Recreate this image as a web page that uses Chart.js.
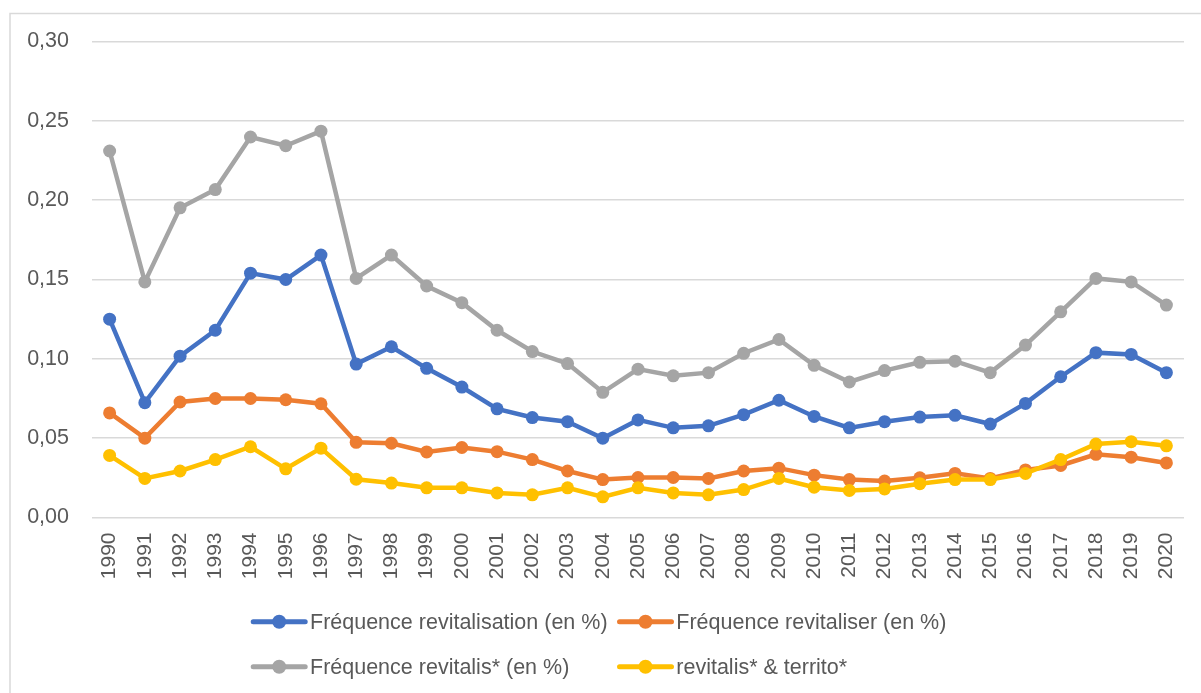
<!DOCTYPE html>
<html lang="fr">
<head>
  <meta charset="UTF-8" />
  <title>Fréquence revitalisation</title>
  <script src="https://cdn.jsdelivr.net/npm/chart.js"></script>
  <style>
    html, body { margin: 0; padding: 0; background: #fff; }
    .cadre { position: relative; width: 1201px; height: 693px; }
  </style>
</head>
<body>
  <div class="cadre">
    <canvas id="graphique"></canvas>
  </div>

  <script>
    var annees = ["1990", "1991", "1992", "1993", "1994", "1995", "1996", "1997", "1998", "1999",
      "2000", "2001", "2002", "2003", "2004", "2005", "2006", "2007", "2008", "2009",
      "2010", "2011", "2012", "2013", "2014", "2015", "2016", "2017", "2018", "2019", "2020"];

    var revitalisation = [0.125, 0.0724, 0.1017, 0.118, 0.154, 0.150, 0.1654, 0.0967, 0.1076, 0.094,
      0.0822, 0.0685, 0.063, 0.0604, 0.050, 0.0615, 0.0565, 0.0578, 0.0648, 0.0739,
      0.0637, 0.0565, 0.0604, 0.0633, 0.0644, 0.0589, 0.0719, 0.0887, 0.1039, 0.1028, 0.0913];

    var revitaliser = [0.0659, 0.050, 0.0728, 0.075, 0.075, 0.0742, 0.0717, 0.0474, 0.0468, 0.0413,
      0.0441, 0.0415, 0.0365, 0.0293, 0.0239, 0.0252, 0.0252, 0.0246, 0.0293, 0.0311,
      0.0267, 0.0239, 0.023, 0.025, 0.0278, 0.0246, 0.030, 0.0328, 0.0398, 0.038, 0.0344];

    var revitalisEtoile = [0.231, 0.1485, 0.1952, 0.2067, 0.2398, 0.2343, 0.2435, 0.1507, 0.1654, 0.1459,
      0.1354, 0.118, 0.1046, 0.097, 0.0789, 0.0935, 0.0893, 0.0913, 0.1035, 0.1122,
      0.0959, 0.0854, 0.0926, 0.0978, 0.0985, 0.0913, 0.1087, 0.1296, 0.1507, 0.1485, 0.1339];

    var revitalisTerrito = [0.0391, 0.0246, 0.0293, 0.0365, 0.0446, 0.0307, 0.0437, 0.0241, 0.0217, 0.0187,
      0.0187, 0.0155, 0.0143, 0.0187, 0.013, 0.0187, 0.0155, 0.0143, 0.0176, 0.0246,
      0.0191, 0.017, 0.018, 0.0213, 0.0239, 0.0239, 0.0278, 0.0365, 0.0463, 0.0478, 0.0452];

    var etiquettesY = ["0,00", "0,05", "0,10", "0,15", "0,20", "0,25", "0,30"];

    var nomsSeries = ["Fréquence revitalisation (en %)", "Fréquence revitaliser (en %)",
      "Fréquence revitalis* (en %)", "revitalis* & territo*"];
    var couleurs = ["#4472C4", "#ED7D31", "#A5A5A5", "#FFC000"];

    var police = "'Liberation Sans', Arial, sans-serif";
    var gris = "#595959";

    function serie(i, valeurs) {
      return {
        label: nomsSeries[i],
        data: valeurs,
        borderColor: couleurs[i],
        backgroundColor: couleurs[i],
        pointBackgroundColor: couleurs[i],
        pointBorderWidth: 0,
        pointRadius: 6.5,
        pointHoverRadius: 6.5,
        borderWidth: 4.5,
        tension: 0,
        order: 3 - i
      };
    }

    // cadre gris autour du graphique
    var cadre = {
      id: "cadre",
      beforeDraw: function (chart) {
        var ctx = chart.ctx;
        ctx.save();
        ctx.strokeStyle = "#d9d9d9";
        ctx.lineWidth = 1.5;
        ctx.strokeRect(10, 13.5, 1300, 800);
        ctx.restore();
      }
    };

    // légende façon Excel : trait + point, sur deux colonnes
    var legende = {
      id: "legende",
      afterDraw: function (chart) {
        var ctx = chart.ctx;
        var colX = [250.7, 617];
        var rangY = [621.7, 666.7];
        ctx.save();
        ctx.font = "21.5px " + police;
        ctx.textBaseline = "middle";
        ctx.textAlign = "left";
        for (var i = 0; i < chart.data.datasets.length; i++) {
          var ds = chart.data.datasets[i];
          var x = colX[i % 2];
          var y = rangY[Math.floor(i / 2)];
          ctx.strokeStyle = ds.borderColor;
          ctx.lineWidth = 5;
          ctx.lineCap = "round";
          ctx.beginPath();
          ctx.moveTo(x + 2.5, y);
          ctx.lineTo(x + 54.5, y);
          ctx.stroke();
          ctx.fillStyle = ds.borderColor;
          ctx.beginPath();
          ctx.arc(x + 28.5, y, 7, 0, Math.PI * 2);
          ctx.fill();
          ctx.fillStyle = gris;
          ctx.fillText(ds.label, x + 59.3, y + 1);
        }
        ctx.restore();
      }
    };

    new Chart(graphique, {
      type: "line",
      data: {
        labels: annees,
        datasets: [
          serie(0, revitalisation),
          serie(1, revitaliser),
          serie(2, revitalisEtoile),
          serie(3, revitalisTerrito)
        ]
      },
      plugins: [cadre, legende],
      options: {
        responsive: true,
        maintainAspectRatio: false,
        animation: false,
        layout: { padding: { top: 41.5, right: 17, bottom: 0, left: 0 } },
        plugins: {
          legend: { display: false },
          tooltip: { enabled: false }
        },
        scales: {
          x: {
            offset: true,
            grid: { display: false, drawTicks: false },
            border: { display: false },
            afterFit: function (scale) {
              scale.height = 175.5;
              scale.paddingLeft = 0;
              scale.paddingRight = 0;
            },
            ticks: {
              autoSkip: false,
              minRotation: 90,
              maxRotation: 90,
              padding: 15,
              color: gris,
              font: { family: police, size: 21 }
            }
          },
          y: {
            min: 0,
            max: 0.3,
            grid: { color: "#d9d9d9", lineWidth: 1.5, drawTicks: false },
            border: { display: false },
            afterFit: function (scale) {
              scale.width = 92;
              scale.paddingTop = 0;
              scale.paddingBottom = 0;
            },
            ticks: {
              stepSize: 0.05,
              padding: 23,
              color: gris,
              font: { family: police, size: 21.5 },
              callback: function (v, i) { return etiquettesY[i]; }
            }
          }
        }
      }
    });
  </script>
</body>
</html>
